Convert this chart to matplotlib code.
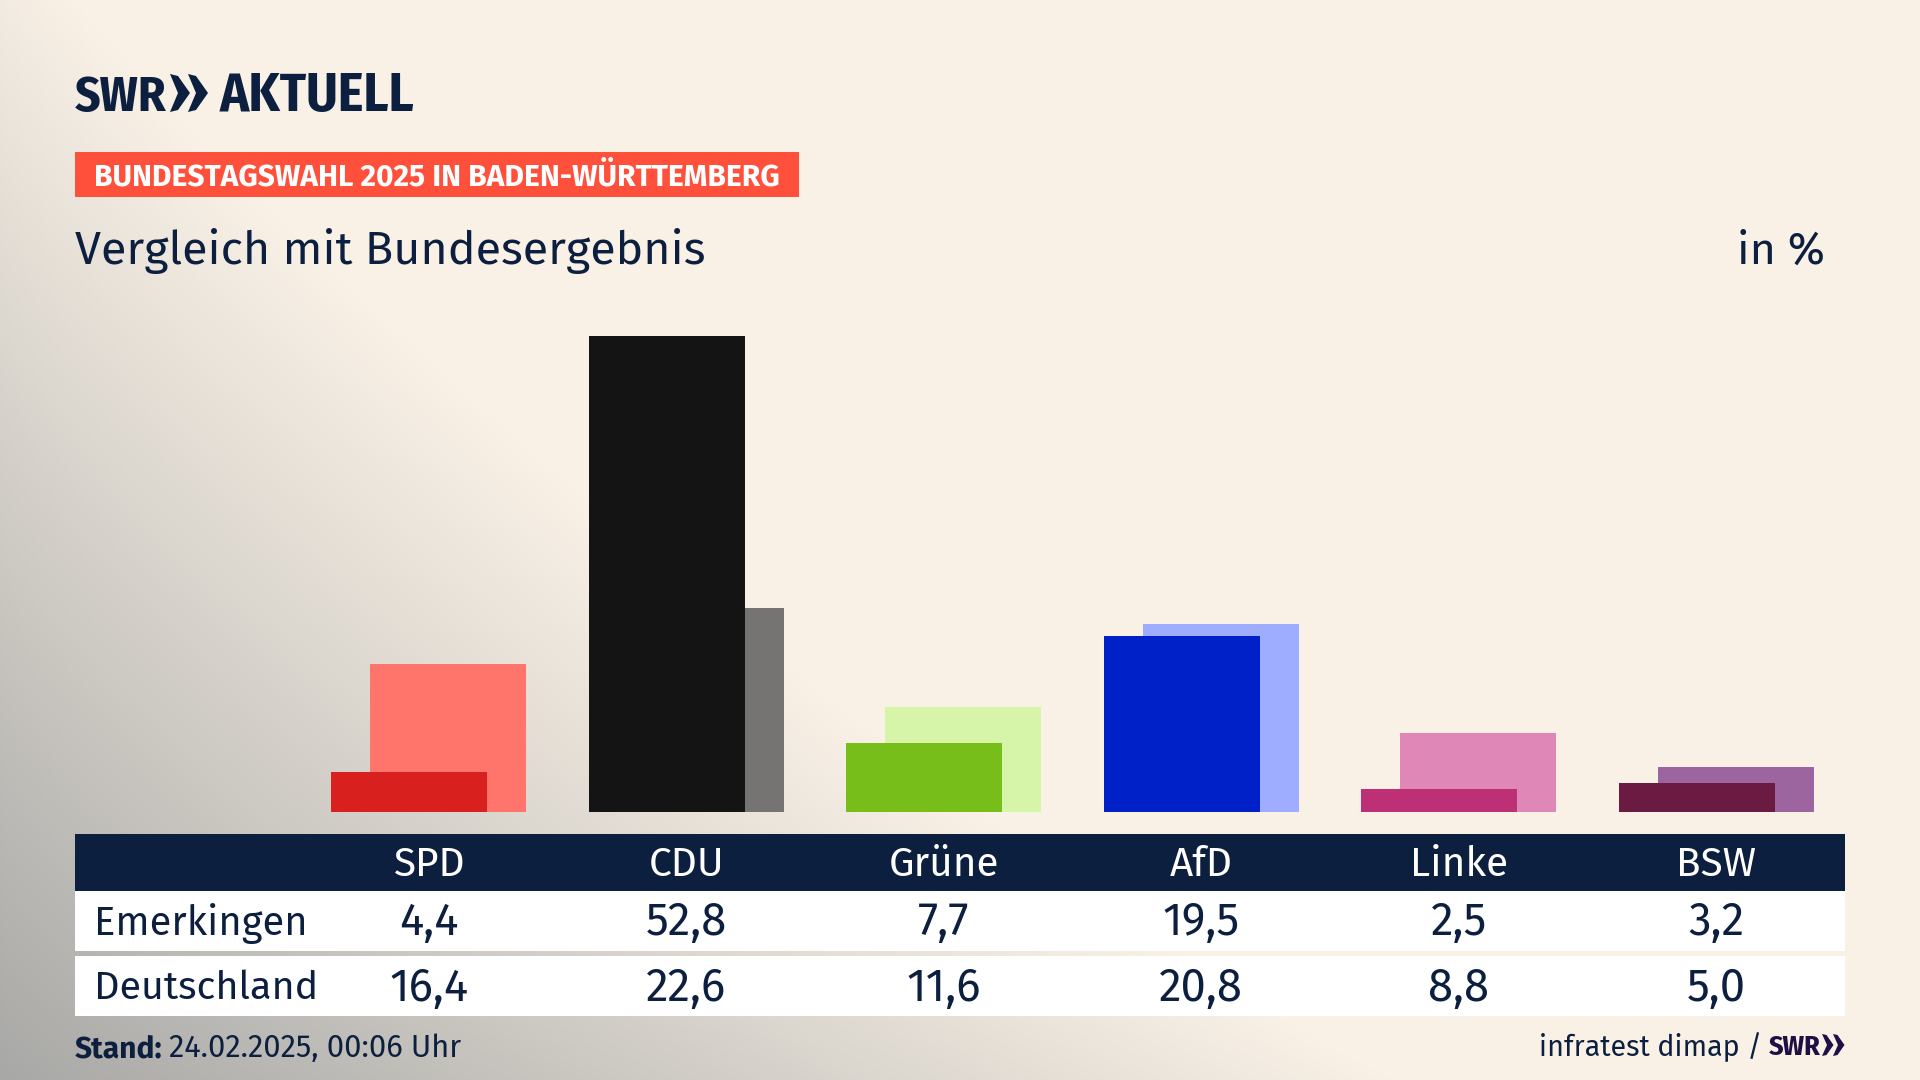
import numpy as np
import matplotlib
matplotlib.use('Agg')
import matplotlib.pyplot as plt
from matplotlib.patches import Polygon, Rectangle

parties = ['SPD', 'CDU', 'Grüne', 'AfD', 'Linke', 'BSW']
emerkingen = [4.4, 52.8, 7.7, 19.5, 2.5, 3.2]
deutschland = [16.4, 22.6, 11.6, 20.8, 8.8, 5.0]
front_colors = ['#D8201E', '#141414', '#78BE1A', '#0020C8', '#BE3075', '#6B1A42']
back_colors = ['#FF756C', '#757472', '#D7F5A9', '#9EADFF', '#DF88B7', '#9C659F']

NAVY = '#0C1F3F'
BODY = ['Fira Sans', 'Lato', 'DejaVu Sans']
LOGO = ['Fira Sans Condensed', 'Liberation Sans', 'DejaVu Sans']
COL_X = 428.6
COL_W = 257.5


def fmt(v):
    return f'{v:.1f}'.replace('.', ',')


def px(size):
    # font size in pixels to points at dpi 100
    return size * 0.72


fig = plt.figure(figsize=(19.2, 10.8), dpi=100)

# background gradient, grey from the lower left corner into cream
bg = fig.add_axes([0, 0, 1, 1])
yy, xx = np.mgrid[0:1080, 0:1920]
d = ((xx / 1400.0) ** 0.88 + ((1080 - yy) / 1180.0) ** 0.88) ** (1 / 0.88)
t = np.clip(1 - d, 0, 1)
cream = np.array([249, 241, 230]) / 255
grey = np.array([168, 168, 166]) / 255
img = cream[None, None, :] * (1 - t[..., None]) + grey[None, None, :] * t[..., None]
bg.imshow(img, extent=[0, 1920, 1080, 0], aspect='auto')
bg.set_xlim(0, 1920)
bg.set_ylim(1080, 0)
bg.axis('off')

# bars: 9.015 px per percent point
bars = fig.add_axes([0, (1080 - 812) / 1080, 1, 500 / 1080])
bars.patch.set_alpha(0)
bars.set_xlim(-COL_X / COL_W, (1920 - COL_X) / COL_W)
bars.set_ylim(0, 500 / 9.015)
bars.axis('off')
x = np.arange(len(parties))
bar_w = 156 / COL_W
shift = 39 / COL_W / 2
bars.bar(x + shift, deutschland, bar_w, color=back_colors)
bars.bar(x - shift, emerkingen, bar_w, color=front_colors)

# logo
bg.text(75, 111, 'SWR', fontsize=px(49.5), fontweight='bold', family=LOGO, color=NAVY, va='baseline')
bg.text(220, 111, 'AKTUELL', fontsize=px(54), fontweight='bold', family=LOGO, color=NAVY, va='baseline')
for x0 in (170, 188):
    bg.add_patch(Polygon([(x0, 74), (x0 + 8, 76), (x0 + 20, 93), (x0 + 8, 110), (x0, 112), (x0 + 8, 93)],
                         color=NAVY, lw=0))

# banner
bg.add_patch(Rectangle((75, 152), 724, 45, color='#FF503C', lw=0))
bg.text(94, 185, 'BUNDESTAGSWAHL 2025 IN BADEN-WÜRTTEMBERG', fontsize=px(30), fontweight='bold',
        family=BODY, color='white', va='baseline')

# subtitle
bg.text(75, 264, 'Vergleich mit Bundesergebnis', fontsize=px(46.7), family=BODY, color=NAVY, va='baseline')
bg.text(1825, 264, 'in %', fontsize=px(45), family=BODY, color=NAVY, va='baseline', ha='right')

# table
bg.add_patch(Rectangle((75, 834), 1770, 57, color=NAVY, lw=0))
bg.add_patch(Rectangle((75, 891), 1770, 60, color='white', lw=0))
bg.add_patch(Rectangle((75, 956), 1770, 60, color='white', lw=0))
bg.text(94, 935, 'Emerkingen', fontsize=px(40), family=BODY, color=NAVY, va='baseline')
bg.text(94, 999, 'Deutschland', fontsize=px(39.5), family=BODY, color=NAVY, va='baseline')
for i, party in enumerate(parties):
    cx = COL_X + i * COL_W
    bg.text(cx, 876, party, fontsize=px(40.5), family=BODY, color='white', ha='center', va='baseline')
    bg.text(cx, 935, fmt(emerkingen[i]), fontsize=px(45.5), family=BODY, color=NAVY, ha='center', va='baseline')
    bg.text(cx, 1001, fmt(deutschland[i]), fontsize=px(45.5), family=BODY, color=NAVY, ha='center', va='baseline')

# footer
bg.text(75, 1057, 'Stand:', fontsize=px(30), fontweight='bold', family=BODY, color=NAVY, va='baseline')
bg.text(169, 1057, '24.02.2025, 00:06 Uhr', fontsize=px(30.8), family=BODY, color=NAVY, va='baseline')
bg.text(1762, 1056, 'infratest dimap /', fontsize=px(28.6), family=BODY, color=NAVY, va='baseline', ha='right')
bg.text(1769, 1055, 'SWR', fontsize=px(28), fontweight='bold', family=LOGO, color='#1E0F45', va='baseline')
for x0 in (1822, 1833):
    bg.add_patch(Polygon([(x0, 1034), (x0 + 4.5, 1035), (x0 + 11.5, 1045), (x0 + 4.5, 1055), (x0, 1056), (x0 + 5, 1045)],
                         color='#1E0F45', lw=0))

fig.savefig('out.png', dpi=100)
